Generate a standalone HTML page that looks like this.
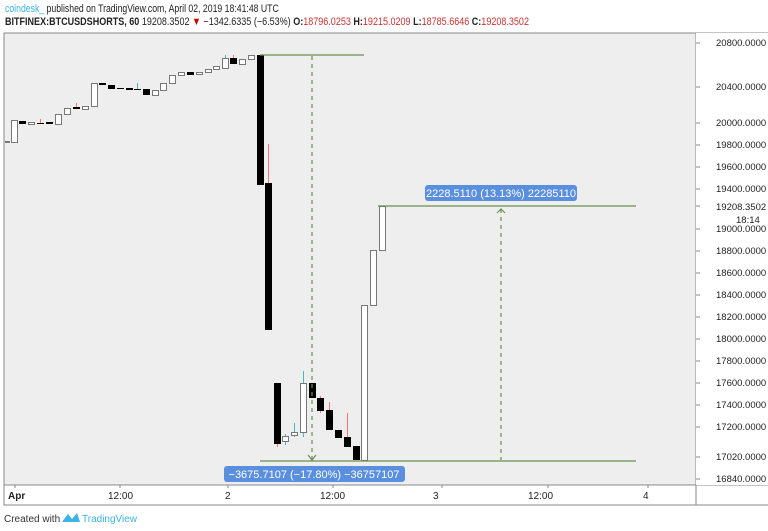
<!DOCTYPE html>
<html><head><style>
body{margin:0;width:768px;height:531px;background:#fff;font-family:"Liberation Sans",sans-serif;overflow:hidden;position:relative}
.t{position:absolute;white-space:nowrap;transform-origin:0 0}
</style></head><body>
<div class="t" style="left:5px;top:3px;font-size:11px;color:#222;transform:scaleX(0.79)"><span style="color:#3bb3e4">coindesk_</span> published on TradingView.com, April 02, 2019 18:41:48 UTC</div>
<div class="t" style="left:5px;top:16px;font-size:11px;color:#222;transform:scaleX(0.82)"><b>BITFINEX:BTCUSDSHORTS, 60</b> 19208.3502 <span style="color:#c00">▼</span> −1342.6335 (−6.53%) <b>O:</b><span style="color:#c33">18796.0253</span> <b>H:</b><span style="color:#c33">19215.0209</span> <b>L:</b><span style="color:#c33">18785.6646</span> <b>C:</b><span style="color:#c33">19208.3502</span></div>
<svg width="768" height="531" style="position:absolute;left:0;top:0" font-family="Liberation Sans, sans-serif">
<rect x="4" y="33" width="692" height="452" fill="#eeeeee"/>
<rect x="4" y="33" width="776" height="472" fill="none" stroke="#888"/>
<line x1="696" y1="33" x2="696" y2="505" stroke="#888"/>
<line x1="4" y1="485" x2="768" y2="485" stroke="#888"/>
<rect x="696" y="33" width="72" height="452" fill="#fff"/>
<g font-size="9.5" fill="#222">
<text x="716" y="46">20800.0000</text><text x="716" y="90">20400.0000</text><text x="716" y="126">20000.0000</text><text x="716" y="148">19800.0000</text><text x="716" y="170">19600.0000</text><text x="716" y="192">19400.0000</text><text x="716" y="232">19000.0000</text><text x="716" y="254">18800.0000</text><text x="716" y="276">18600.0000</text><text x="716" y="298">18400.0000</text><text x="716" y="320">18200.0000</text><text x="716" y="342">18000.0000</text><text x="716" y="364">17800.0000</text><text x="716" y="386">17600.0000</text><text x="716" y="408">17400.0000</text><text x="716" y="430">17200.0000</text><text x="716" y="460">17020.0000</text><text x="716" y="482">16840.0000</text>
<rect x="708" y="199" width="60" height="14" fill="#fff"/><text x="716" y="210">19208.3502</text>
<text x="736" y="223">18:14</text>
</g>
<g stroke="#888"><line x1="696" y1="43" x2="700" y2="43"/><line x1="696" y1="87" x2="700" y2="87"/><line x1="696" y1="123" x2="700" y2="123"/><line x1="696" y1="145" x2="700" y2="145"/><line x1="696" y1="167" x2="700" y2="167"/><line x1="696" y1="189" x2="700" y2="189"/><line x1="696" y1="206" x2="700" y2="206"/><line x1="696" y1="229" x2="700" y2="229"/><line x1="696" y1="251" x2="700" y2="251"/><line x1="696" y1="273" x2="700" y2="273"/><line x1="696" y1="295" x2="700" y2="295"/><line x1="696" y1="317" x2="700" y2="317"/><line x1="696" y1="339" x2="700" y2="339"/><line x1="696" y1="361" x2="700" y2="361"/><line x1="696" y1="383" x2="700" y2="383"/><line x1="696" y1="405" x2="700" y2="405"/><line x1="696" y1="427" x2="700" y2="427"/><line x1="696" y1="457" x2="700" y2="457"/><line x1="696" y1="479" x2="700" y2="479"/></g>
<g font-size="10" fill="#222"><text x="8" y="499" font-weight="bold">Apr</text><text x="108" y="499">12:00</text><text x="225" y="499">2</text><text x="320" y="499">12:00</text><text x="433" y="499">3</text><text x="528" y="499">12:00</text><text x="643" y="499">4</text></g>
<g stroke="#888"><line x1="15" y1="485" x2="15" y2="488"/><line x1="120" y1="485" x2="120" y2="488"/><line x1="228" y1="485" x2="228" y2="488"/><line x1="333" y1="485" x2="333" y2="488"/><line x1="442" y1="485" x2="442" y2="488"/><line x1="548" y1="485" x2="548" y2="488"/><line x1="648" y1="485" x2="648" y2="488"/></g>
<g stroke="#e77" stroke-width="1"><line x1="76.5" y1="103" x2="76.5" y2="108"/><line x1="40.5" y1="119" x2="40.5" y2="124"/><line x1="233.5" y1="55" x2="233.5" y2="58"/><line x1="268.5" y1="144" x2="268.5" y2="183"/><line x1="320.5" y1="396" x2="320.5" y2="413"/><line x1="329.5" y1="402" x2="329.5" y2="410"/><line x1="347.5" y1="413" x2="347.5" y2="437"/><line x1="277.5" y1="444" x2="277.5" y2="447"/></g>
<g stroke="#4bb" stroke-width="1"><line x1="137.5" y1="83" x2="137.5" y2="90"/><line x1="285.5" y1="434" x2="285.5" y2="445"/><line x1="294.5" y1="423" x2="294.5" y2="437"/><line x1="303.5" y1="371" x2="303.5" y2="437"/><line x1="225.5" y1="55" x2="225.5" y2="58"/></g>
<g fill="#fff" stroke="#777" stroke-width="1">
<rect x="5.5" y="141.5" width="4" height="1"/><rect x="11.5" y="120.5" width="6" height="22"/><rect x="28.5" y="122.5" width="6" height="2"/><rect x="55.5" y="114.5" width="6" height="10"/><rect x="64.5" y="108.5" width="6" height="6"/><rect x="82.5" y="106.5" width="6" height="3"/><rect x="91.5" y="83.5" width="6" height="23"/><rect x="152.5" y="90.5" width="6" height="5"/><rect x="160.5" y="83.5" width="6" height="7"/><rect x="169.5" y="75.5" width="6" height="8"/><rect x="178.5" y="72.5" width="6" height="3"/><rect x="196.5" y="72.5" width="6" height="2"/><rect x="205.5" y="69.5" width="6" height="3"/><rect x="213.5" y="66.5" width="6" height="3"/><rect x="222.5" y="58.5" width="6" height="10"/><rect x="239.5" y="59.5" width="6" height="5"/><rect x="248.5" y="55.5" width="6" height="4"/>
<rect x="282.5" y="436.5" width="6" height="5"/><rect x="291.5" y="432.5" width="6" height="3"/><rect x="300.5" y="383.5" width="6" height="49"/><rect x="361.5" y="305.5" width="6" height="155"/><rect x="370.5" y="250.5" width="6" height="55"/><rect x="379.5" y="206.5" width="6" height="44"/>
</g>
<g fill="#000">
<rect x="19" y="121" width="7" height="3"/><rect x="37" y="123" width="7" height="1"/><rect x="46" y="122" width="7" height="2"/><rect x="73" y="107" width="7" height="2"/><rect x="99" y="83" width="7" height="2"/><rect x="108" y="85" width="7" height="4"/><rect x="117" y="88" width="7" height="1"/><rect x="126" y="88" width="7" height="2"/><rect x="134" y="89" width="7" height="1"/><rect x="143" y="89" width="7" height="6"/><rect x="187" y="72" width="7" height="3"/><rect x="230" y="58" width="7" height="6"/>
<rect x="257" y="55" width="7" height="130"/><rect x="265" y="183" width="7" height="147"/><rect x="274" y="383" width="7" height="61"/><rect x="309" y="383" width="7" height="15"/><rect x="317" y="398" width="7" height="13"/><rect x="326" y="410" width="7" height="20"/><rect x="335" y="430" width="7" height="8"/><rect x="344" y="437" width="7" height="10"/><rect x="353" y="446" width="7" height="14"/>
</g>
<g stroke="#6a9050" stroke-width="1.2" fill="none">
<line x1="260" y1="55" x2="364" y2="55"/><line x1="260" y1="461" x2="636" y2="461"/><line x1="378" y1="206" x2="636" y2="206"/>
<line x1="312" y1="56" x2="312" y2="460" stroke-dasharray="4,4"/><line x1="501" y1="209" x2="501" y2="460" stroke-dasharray="4,4"/>
<polyline points="308,455 312,460 316,455"/><polyline points="497,213 501,209 505,213"/>
</g>
<rect x="425" y="185" width="152" height="16" rx="3" fill="#5a8fe0"/><text x="501" y="197" font-size="11" fill="#fff" text-anchor="middle">2228.5110 (13.13%) 22285110</text>
<rect x="224" y="466" width="181" height="16" rx="3" fill="#5a8fe0"/><text x="314" y="478" font-size="11" fill="#fff" text-anchor="middle">−3675.7107 (−17.80%) −36757107</text>
<text x="4" y="522" font-size="10" fill="#333">Created with</text>
<path d="M62 522 L68 514 L72 519 L77 513 L80 522 Z" fill="#3bb3e4"/>
<text x="82" y="522" font-size="10" fill="#3bb3e4">TradingView</text>
</svg>
</body></html>
